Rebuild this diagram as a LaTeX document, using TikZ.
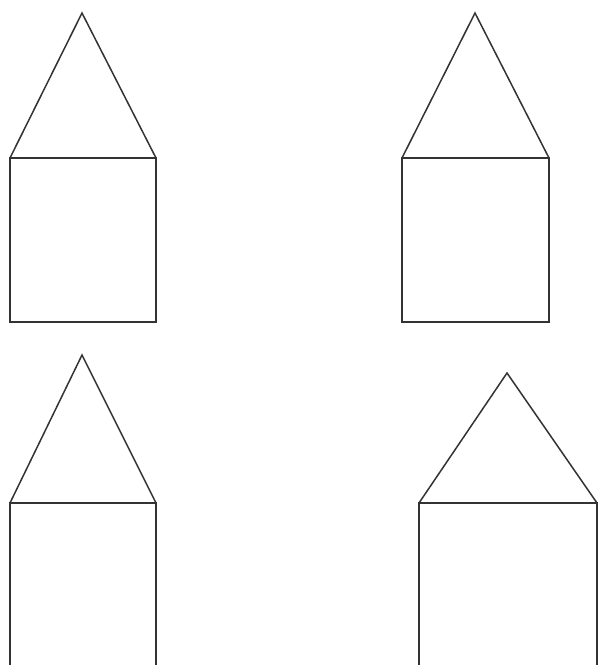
\documentclass[tikz,border=0pt]{standalone}
\usepackage{tikz}

\begin{document}
\begin{tikzpicture}[x=0.5pt,y=-0.5pt,line width=0.75pt,line join=miter]
        \useasboundingbox (0,0) rectangle (598,665);
        \clip (0,0) rectangle (598,665);
        % top left
        \draw[black!80] (10,158) -- (82,13) -- (156,158);
        \draw[black!80] (10,158) rectangle (156,322);
        % top right
        \draw[black!80] (402,158) -- (475,13) -- (549,158);
        \draw[black!80] (402,158) rectangle (549,322);
        % bottom left
        \draw[black!80] (10,503) -- (82,355) -- (156,503);
        \draw[black!80] (10,670) -- (10,503) -- (156,503) -- (156,670);
        % bottom right
        \draw[black!80] (419,503) -- (507,373) -- (597,503);
        \draw[black!80] (419,670) -- (419,503) -- (597,503) -- (597,670);
    \end{tikzpicture}
\end{document}
